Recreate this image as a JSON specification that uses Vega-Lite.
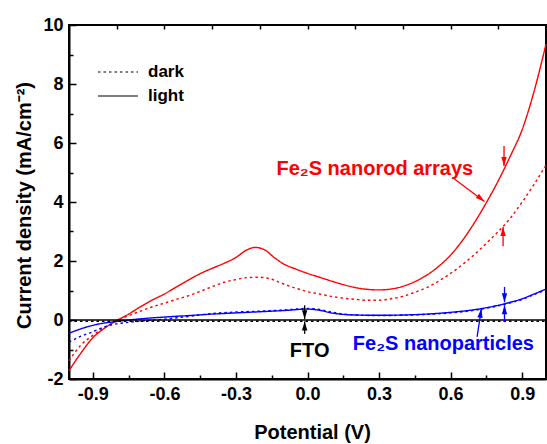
{
  "$schema": "https://vega.github.io/schema/vega-lite/v6.json",
  "width": 477,
  "height": 354,
  "autosize": {"type": "none"},
  "padding": {"left": 69, "top": 25, "right": 1, "bottom": 65},
  "config": {
    "view": {"stroke": "black", "strokeWidth": 2},
    "font": "Liberation Sans",
    "axis": {"grid": false, "domainColor": "black", "domainWidth": 2, "tickColor": "black", "tickWidth": 1.5, "labelColor": "black", "titleColor": "black", "labelFont": "Liberation Sans", "titleFont": "Liberation Sans", "labelFontWeight": "bold", "titleFontWeight": "bold"}
  },
  "datasets": {
    "curves": [
      {"s":"rod","c":"light","x":-1.0,"y":-1.72},{"s":"rod","c":"light","x":-0.95,"y":-1.12},{"s":"rod","c":"light","x":-0.9,"y":-0.6},{"s":"rod","c":"light","x":-0.85,"y":-0.27},{"s":"rod","c":"light","x":-0.8,"y":-0.02},{"s":"rod","c":"light","x":-0.75,"y":0.2},{"s":"rod","c":"light","x":-0.7,"y":0.45},{"s":"rod","c":"light","x":-0.65,"y":0.68},{"s":"rod","c":"light","x":-0.6,"y":0.88},{"s":"rod","c":"light","x":-0.55,"y":1.12},{"s":"rod","c":"light","x":-0.5,"y":1.35},{"s":"rod","c":"light","x":-0.45,"y":1.57},{"s":"rod","c":"light","x":-0.4,"y":1.75},{"s":"rod","c":"light","x":-0.35,"y":1.92},{"s":"rod","c":"light","x":-0.3,"y":2.12},{"s":"rod","c":"light","x":-0.26,"y":2.35},{"s":"rod","c":"light","x":-0.22,"y":2.46},{"s":"rod","c":"light","x":-0.18,"y":2.38},{"s":"rod","c":"light","x":-0.14,"y":2.12},{"s":"rod","c":"light","x":-0.1,"y":1.9},{"s":"rod","c":"light","x":-0.05,"y":1.73},{"s":"rod","c":"light","x":0.0,"y":1.58},{"s":"rod","c":"light","x":0.05,"y":1.45},{"s":"rod","c":"light","x":0.1,"y":1.32},{"s":"rod","c":"light","x":0.15,"y":1.2},{"s":"rod","c":"light","x":0.2,"y":1.1},{"s":"rod","c":"light","x":0.25,"y":1.04},{"s":"rod","c":"light","x":0.3,"y":1.02},{"s":"rod","c":"light","x":0.35,"y":1.05},{"s":"rod","c":"light","x":0.4,"y":1.14},{"s":"rod","c":"light","x":0.45,"y":1.3},{"s":"rod","c":"light","x":0.5,"y":1.52},{"s":"rod","c":"light","x":0.55,"y":1.82},{"s":"rod","c":"light","x":0.6,"y":2.2},{"s":"rod","c":"light","x":0.65,"y":2.7},{"s":"rod","c":"light","x":0.7,"y":3.3},{"s":"rod","c":"light","x":0.75,"y":3.98},{"s":"rod","c":"light","x":0.8,"y":4.72},{"s":"rod","c":"light","x":0.85,"y":5.55},{"s":"rod","c":"light","x":0.9,"y":6.45},{"s":"rod","c":"light","x":0.95,"y":7.75},{"s":"rod","c":"light","x":1.0,"y":9.35},
      {"s":"rod","c":"dark","x":-1.0,"y":-1.38},{"s":"rod","c":"dark","x":-0.95,"y":-0.85},{"s":"rod","c":"dark","x":-0.9,"y":-0.52},{"s":"rod","c":"dark","x":-0.85,"y":-0.25},{"s":"rod","c":"dark","x":-0.8,"y":-0.03},{"s":"rod","c":"dark","x":-0.75,"y":0.15},{"s":"rod","c":"dark","x":-0.7,"y":0.3},{"s":"rod","c":"dark","x":-0.65,"y":0.45},{"s":"rod","c":"dark","x":-0.6,"y":0.57},{"s":"rod","c":"dark","x":-0.55,"y":0.7},{"s":"rod","c":"dark","x":-0.5,"y":0.82},{"s":"rod","c":"dark","x":-0.45,"y":0.97},{"s":"rod","c":"dark","x":-0.4,"y":1.13},{"s":"rod","c":"dark","x":-0.35,"y":1.28},{"s":"rod","c":"dark","x":-0.3,"y":1.37},{"s":"rod","c":"dark","x":-0.25,"y":1.44},{"s":"rod","c":"dark","x":-0.2,"y":1.45},{"s":"rod","c":"dark","x":-0.15,"y":1.38},{"s":"rod","c":"dark","x":-0.1,"y":1.22},{"s":"rod","c":"dark","x":-0.05,"y":1.08},{"s":"rod","c":"dark","x":0.0,"y":0.96},{"s":"rod","c":"dark","x":0.05,"y":0.88},{"s":"rod","c":"dark","x":0.1,"y":0.8},{"s":"rod","c":"dark","x":0.15,"y":0.74},{"s":"rod","c":"dark","x":0.2,"y":0.7},{"s":"rod","c":"dark","x":0.25,"y":0.67},{"s":"rod","c":"dark","x":0.3,"y":0.67},{"s":"rod","c":"dark","x":0.35,"y":0.72},{"s":"rod","c":"dark","x":0.4,"y":0.8},{"s":"rod","c":"dark","x":0.45,"y":0.94},{"s":"rod","c":"dark","x":0.5,"y":1.1},{"s":"rod","c":"dark","x":0.55,"y":1.32},{"s":"rod","c":"dark","x":0.6,"y":1.58},{"s":"rod","c":"dark","x":0.65,"y":1.88},{"s":"rod","c":"dark","x":0.7,"y":2.22},{"s":"rod","c":"dark","x":0.75,"y":2.6},{"s":"rod","c":"dark","x":0.8,"y":3.0},{"s":"rod","c":"dark","x":0.85,"y":3.45},{"s":"rod","c":"dark","x":0.9,"y":4.0},{"s":"rod","c":"dark","x":0.95,"y":4.6},{"s":"rod","c":"dark","x":1.0,"y":5.25},
      {"s":"np","c":"light","x":-1.0,"y":-0.45},{"s":"np","c":"light","x":-0.95,"y":-0.3},{"s":"np","c":"light","x":-0.9,"y":-0.18},{"s":"np","c":"light","x":-0.85,"y":-0.1},{"s":"np","c":"light","x":-0.8,"y":-0.05},{"s":"np","c":"light","x":-0.7,"y":0.04},{"s":"np","c":"light","x":-0.6,"y":0.1},{"s":"np","c":"light","x":-0.5,"y":0.15},{"s":"np","c":"light","x":-0.4,"y":0.2},{"s":"np","c":"light","x":-0.3,"y":0.24},{"s":"np","c":"light","x":-0.2,"y":0.28},{"s":"np","c":"light","x":-0.1,"y":0.32},{"s":"np","c":"light","x":0.0,"y":0.37},{"s":"np","c":"light","x":0.05,"y":0.33},{"s":"np","c":"light","x":0.1,"y":0.24},{"s":"np","c":"light","x":0.15,"y":0.19},{"s":"np","c":"light","x":0.2,"y":0.17},{"s":"np","c":"light","x":0.3,"y":0.16},{"s":"np","c":"light","x":0.4,"y":0.17},{"s":"np","c":"light","x":0.5,"y":0.2},{"s":"np","c":"light","x":0.6,"y":0.26},{"s":"np","c":"light","x":0.7,"y":0.35},{"s":"np","c":"light","x":0.8,"y":0.5},{"s":"np","c":"light","x":0.85,"y":0.6},{"s":"np","c":"light","x":0.9,"y":0.72},{"s":"np","c":"light","x":0.95,"y":0.88},{"s":"np","c":"light","x":1.0,"y":1.05},
      {"s":"np","c":"dark","x":-1.0,"y":-0.75},{"s":"np","c":"dark","x":-0.95,"y":-0.55},{"s":"np","c":"dark","x":-0.9,"y":-0.4},{"s":"np","c":"dark","x":-0.85,"y":-0.23},{"s":"np","c":"dark","x":-0.8,"y":-0.13},{"s":"np","c":"dark","x":-0.75,"y":-0.08},{"s":"np","c":"dark","x":-0.7,"y":-0.04},{"s":"np","c":"dark","x":-0.6,"y":0.03},{"s":"np","c":"dark","x":-0.5,"y":0.12},{"s":"np","c":"dark","x":-0.4,"y":0.22},{"s":"np","c":"dark","x":-0.3,"y":0.27},{"s":"np","c":"dark","x":-0.2,"y":0.3},{"s":"np","c":"dark","x":-0.1,"y":0.34},{"s":"np","c":"dark","x":0.0,"y":0.39},{"s":"np","c":"dark","x":0.05,"y":0.36},{"s":"np","c":"dark","x":0.1,"y":0.27},{"s":"np","c":"dark","x":0.15,"y":0.2},{"s":"np","c":"dark","x":0.2,"y":0.17},{"s":"np","c":"dark","x":0.3,"y":0.15},{"s":"np","c":"dark","x":0.4,"y":0.16},{"s":"np","c":"dark","x":0.5,"y":0.19},{"s":"np","c":"dark","x":0.6,"y":0.24},{"s":"np","c":"dark","x":0.7,"y":0.33},{"s":"np","c":"dark","x":0.8,"y":0.48},{"s":"np","c":"dark","x":0.85,"y":0.58},{"s":"np","c":"dark","x":0.9,"y":0.7},{"s":"np","c":"dark","x":0.95,"y":0.86},{"s":"np","c":"dark","x":1.0,"y":1.03},
      {"s":"fto","c":"light","x":-1.0,"y":0.0},{"s":"fto","c":"light","x":1.0,"y":0.0},
      {"s":"fto","c":"dark","x":-1.0,"y":-0.04},{"s":"fto","c":"dark","x":1.0,"y":-0.04}
    ],
    "arrows": [
      {"s":"rod","dir":"dr","x":0.616,"y":4.78,"x2":0.742,"y2":4.02},
      {"s":"rod","dir":"down","x":0.824,"y":5.9,"x2":0.824,"y2":5.22},
      {"s":"rod","dir":"up","x":0.82,"y":2.5,"x2":0.82,"y2":3.15},
      {"s":"np","dir":"down","x":0.826,"y":1.12,"x2":0.826,"y2":0.6},
      {"s":"np","dir":"up","x":0.826,"y":-0.07,"x2":0.826,"y2":0.5},
      {"s":"np","dir":"ur","x":0.711,"y":-0.57,"x2":0.729,"y2":0.38},
      {"s":"fto","dir":"down","x":-0.012,"y":0.5,"x2":-0.012,"y2":0.03},
      {"s":"fto","dir":"up","x":-0.012,"y":-0.47,"x2":-0.012,"y2":-0.05}
    ],
    "notes": [
      {"s":"rod","label":"Fe₂S nanorod arrays","x":-0.13,"y":4.92},
      {"s":"np","label":"Fe₂S nanoparticles","x":0.19,"y":-1.02},
      {"s":"fto","label":"FTO","x":-0.074,"y":-1.26}
    ]
  },
  "layer": [
    {
      "data": {"name": "curves"},
      "mark": {"type": "line", "strokeWidth": 1.4, "interpolate": "monotone"},
      "encoding": {
        "x": {"field": "x", "type": "quantitative", "scale": {"domain": [-1, 1], "nice": false, "zero": false},
          "axis": {"orient": "bottom", "values": [-0.9, -0.6, -0.3, 0, 0.3, 0.6, 0.9], "format": ".1f", "labelExpr": "replace(datum.label, '−', '-')", "labelFontSize": 18, "tickSize": -7, "labelPadding": 13, "title": "Potential (V)", "titleFontSize": 20, "titleX": 243, "titleY": 59, "titleBaseline": "alphabetic", "titleAlign": "center"}},
        "y": {"field": "y", "type": "quantitative", "scale": {"domain": [-2, 10], "nice": false, "zero": false},
          "axis": {"orient": "left", "values": [-2, 0, 2, 4, 6, 8, 10], "format": "d", "labelExpr": "replace(datum.label, '−', '-')", "labelFontSize": 18, "tickSize": -7, "labelPadding": 13, "title": "Current density (mA/cm⁻²)", "titleFontSize": 20, "titleX": -39, "titleY": 180, "titleAngle": -90, "titleBaseline": "alphabetic", "titleAlign": "center"}},
        "color": {"field": "s", "type": "nominal", "scale": {"domain": ["rod", "np", "fto"], "range": ["#ff0000", "#0000ff", "#000000"]}, "legend": null},
        "strokeDash": {"field": "c", "type": "nominal", "scale": {"domain": ["dark", "light"], "range": [[2.5, 3], [1, 0]]},
          "legend": {"orient": "none", "legendX": 28, "legendY": 35, "title": null, "padding": 0, "symbolType": "stroke", "symbolSize": 1600, "clipHeight": 24, "symbolStrokeColor": "black", "symbolStrokeWidth": 1.2, "labelFont": "Liberation Sans", "labelFontWeight": "bold", "labelFontSize": 17, "labelColor": "black", "labelOffset": 9, "rowPadding": 0}}
      }
    },
    {
      "data": {"name": "arrows"},
      "mark": {"type": "rule", "strokeWidth": 1.3},
      "encoding": {
        "x": {"field": "x", "type": "quantitative", "axis": {"orient": "bottom", "values": [-0.75, -0.45, -0.15, 0.15, 0.45, 0.75], "labels": false, "domain": false, "tickSize": -4, "title": null}},
        "y": {"field": "y", "type": "quantitative", "axis": {"orient": "left", "values": [-1, 1, 3, 5, 7, 9], "labels": false, "domain": false, "tickSize": -4, "title": null}},
        "x2": {"field": "x2"},
        "y2": {"field": "y2"},
        "color": {"field": "s", "type": "nominal", "legend": null}
      }
    },
    {
      "data": {"name": "arrows"},
      "mark": {"type": "point", "filled": true, "opacity": 1, "size": 80, "strokeWidth": 0},
      "encoding": {
        "x": {"field": "x2", "type": "quantitative", "axis": {"orient": "top", "values": [-0.8, -0.6, -0.4, -0.2, 0, 0.2, 0.4, 0.6, 0.8], "labels": false, "domain": false, "tickSize": -4, "title": null}},
        "y": {"field": "y2", "type": "quantitative", "axis": null},
        "shape": {"field": "dir", "type": "nominal", "scale": {"domain": ["up", "down", "dr", "ur"], "range": ["M0,0L0.6,2L-0.6,2Z", "M0,0L0.6,-2L-0.6,-2Z", "M0,0L-1.952,-0.742L-1.222,-1.694Z", "M0,0L0.28,2.069L-0.906,1.882Z"]}, "legend": null},
        "color": {"field": "s", "type": "nominal", "legend": null}
      }
    },
    {
      "data": {"name": "notes"},
      "mark": {"type": "text", "align": "left", "baseline": "alphabetic", "font": "Liberation Sans", "fontWeight": "bold", "fontSize": 20},
      "encoding": {
        "x": {"field": "x", "type": "quantitative", "axis": null},
        "y": {"field": "y", "type": "quantitative", "axis": null},
        "text": {"field": "label"},
        "color": {"field": "s", "type": "nominal", "legend": null}
      }
    }
  ],
  "resolve": {"axis": {"x": "independent", "y": "independent"}}
}
